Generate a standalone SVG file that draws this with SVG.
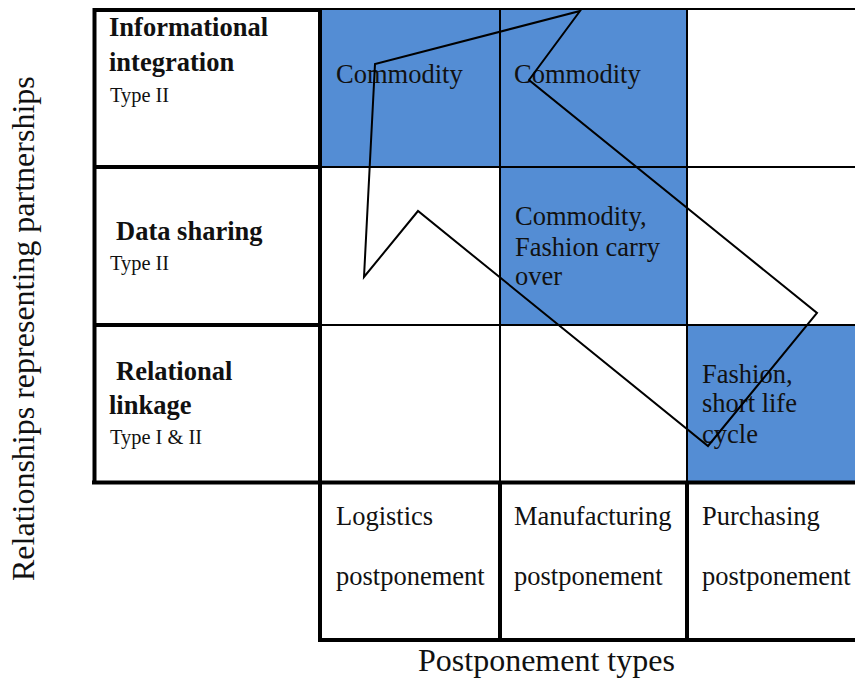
<svg xmlns="http://www.w3.org/2000/svg" width="855" height="679" viewBox="0 0 855 679">
<style>
.t{font-family:"Liberation Serif","Times New Roman",serif;fill:#111;}
.b{font-size:26.5px;font-weight:bold;}
.r{font-size:26.5px;}
.s{font-size:20.4px;}
.ax{font-size:32px;}
.blue{fill:#548DD4;}
.thin{stroke:#000;stroke-width:2;fill:none;}
.thick{stroke:#000;stroke-width:4;fill:none;}
</style>
<rect width="855" height="679" fill="#fff"/>
<g id="cells">
<rect class="blue" x="320" y="9" width="180" height="158"/>
<rect class="blue" x="500" y="9" width="187" height="158"/>
<rect class="blue" x="500" y="167" width="187" height="158"/>
<rect class="blue" x="687" y="325" width="168" height="157"/>
</g>
<g id="grid">
<line class="thin" x1="320" y1="9" x2="855" y2="9"/>
<line class="thin" x1="320" y1="167" x2="855" y2="167"/>
<line class="thin" x1="320" y1="325" x2="855" y2="325"/>
<line class="thin" x1="500" y1="9" x2="500" y2="482"/>
<line class="thin" x1="687" y1="9" x2="687" y2="482"/>
<line class="thick" x1="94" y1="10" x2="320" y2="10"/>
<line class="thick" x1="94" y1="167" x2="320" y2="167"/>
<line class="thick" x1="94" y1="325" x2="320" y2="325"/>
<line class="thick" x1="94.5" y1="8" x2="94.5" y2="484"/>
<line class="thick" x1="320" y1="8" x2="320" y2="642"/>
<line class="thick" x1="92" y1="482.5" x2="855" y2="482.5"/>
<line class="thick" x1="500" y1="482" x2="500" y2="642"/>
<line class="thick" x1="687" y1="482" x2="687" y2="642"/>
<line class="thick" x1="318" y1="640" x2="855" y2="640"/>
</g>
<g id="row-informational">
<text class="t b" x="109" y="36">Informational</text>
<text class="t b" x="109" y="71">integration</text>
<text class="t s" x="110" y="102">Type II</text>
</g>
<g id="row-data-sharing">
<text class="t b" x="116" y="240">Data sharing</text>
<text class="t s" x="110" y="270">Type II</text>
</g>
<g id="row-relational">
<text class="t b" x="116" y="380">Relational</text>
<text class="t b" x="109" y="414">linkage</text>
<text class="t s" x="110" y="444">Type I &amp; II</text>
</g>
<g id="cell-r1c1"><text class="t r" x="336" y="83">Commodity</text></g>
<g id="cell-r1c2"><text class="t r" x="514" y="83">Commodity</text></g>
<g id="cell-r2c2">
<text class="t r" x="515" y="225">Commodity,</text>
<text class="t r" x="515" y="256">Fashion carry</text>
<text class="t r" x="515" y="285">over</text>
</g>
<g id="cell-r3c3">
<text class="t r" x="702" y="383">Fashion,</text>
<text class="t r" x="702" y="412">short life</text>
<text class="t r" x="702" y="443">cycle</text>
</g>
<g id="col-logistics">
<text class="t r" x="336" y="525">Logistics</text>
<text class="t r" x="336" y="585">postponement</text>
</g>
<g id="col-manufacturing">
<text class="t r" x="514" y="525">Manufacturing</text>
<text class="t r" x="514" y="585">postponement</text>
</g>
<g id="col-purchasing">
<text class="t r" x="702" y="525">Purchasing</text>
<text class="t r" x="702" y="585">postponement</text>
</g>
<g id="axis-x"><text class="t ax" x="418" y="671">Postponement types</text></g>
<g id="axis-y"><text class="t ax" transform="translate(34,581) rotate(-90)">Relationships representing partnerships</text></g>
<g id="connectors">
<polygon points="418,211 364,277 375,64 580,11 529,80 817,313 708,446" fill="none" stroke="#000" stroke-width="2" stroke-linejoin="miter"/>
</g>
</svg>
